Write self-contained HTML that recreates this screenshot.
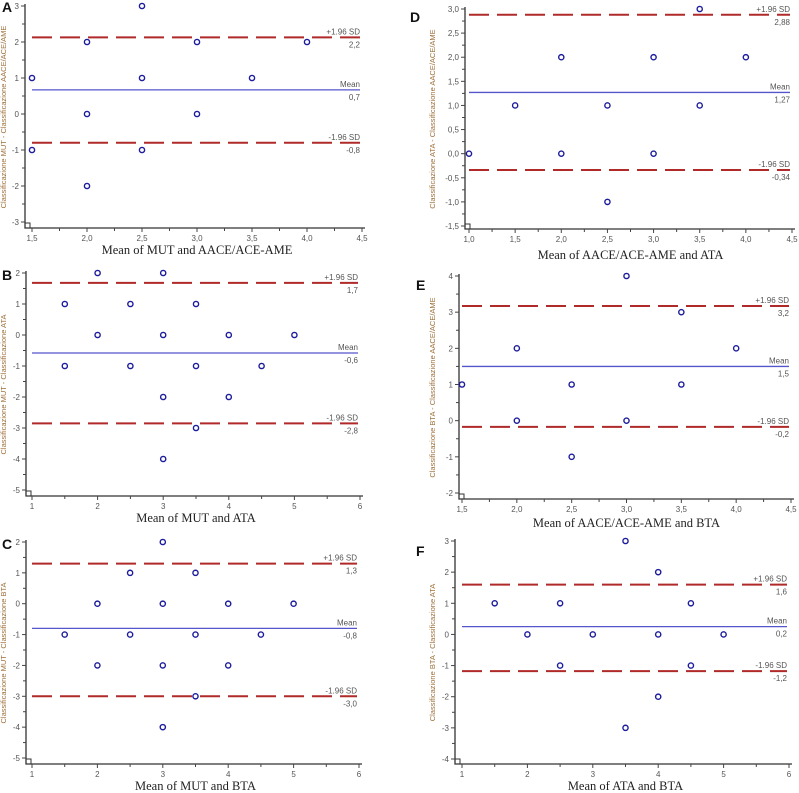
<!DOCTYPE html>
<html><head><meta charset="utf-8"><style>
body{margin:0;background:#fff;width:799px;height:793px;overflow:hidden}
svg{display:block}
</style></head><body>
<svg id="fig" width="799" height="793" xmlns="http://www.w3.org/2000/svg"></svg>
<script>
const NS="http://www.w3.org/2000/svg";
// Panel data
const aX=[1.5,1.5,2,2,2,2.5,2.5,2.5,3,3,3.5,4];
const aY=[1,-1,2,0,-2,3,1,-1,2,0,1,2];
const aLines=[2.13,0.67,-0.8];
const aLineLabels=["2,2","0,7","-0,8"];
const bX=[1.5,1.5,2,2,2.5,2.5,3,3,3,3,3.5,3.5,3.5,4,4,4.5,5];
const bY=[1,-1,2,0,1,-1,2,0,-2,-4,1,-1,-3,0,-2,-1,0];
const bLines=[1.68,-0.58,-2.85];
const bLineLabels=["1,7","-0,6","-2,8"];
const cX=[1.5,2,2,2.5,2.5,3,3,3,3,3.5,3.5,3.5,4,4,4.5,5];
const cY=[-1,0,-2,1,-1,2,0,-2,-4,1,-1,-3,0,-2,-1,0];
const cLines=[1.3,-0.8,-3.0];
const cLineLabels=["1,3","-0,8","-3,0"];
const dX=[1,1.5,2,2,2.5,2.5,3,3,3.5,3.5,4];
const dY=[0,1,2,0,1,-1,2,0,3,1,2];
const dLines=[2.88,1.27,-0.34];
const dLineLabels=["2,88","1,27","-0,34"];
const eX=[1.5,2,2,2.5,2.5,3,3,3.5,3.5,4];
const eY=[1,2,0,1,-1,4,0,3,1,2];
const eLines=[3.17,1.5,-0.17];
const eLineLabels=["3,2","1,5","-0,2"];
const fX=[1.5,2,2.5,2.5,3,3.5,3.5,4,4,4,4.5,4.5,5];
const fY=[1,0,1,-1,0,3,-3,2,0,-2,1,-1,0];
const fLines=[1.6,0.25,-1.18];
const fLineLabels=["1,6","0,2","-1,2"];
const aXTicks=["1,5","2,0","2,5","3,0","3,5","4,0","4,5"];
const intX=["1","2","3","4","5","6"];
const dXTicks=["1,0","1,5","2,0","2,5","3,0","3,5","4,0","4,5"];

const svg=document.getElementById('fig');
function el(tag,attrs,parent,text){const e=document.createElementNS(NS,tag);for(const k in attrs)e.setAttribute(k,attrs[k]);if(text!==undefined)e.textContent=text;(parent||svg).appendChild(e);return e;}

function panel(cfg){
  const g=el('g',{});
  
  
  const sx=v=>cfg.px0+(v-cfg.xmin)/(cfg.xmax-cfg.xmin)*(cfg.px1-cfg.px0);
  const sy=v=>cfg.py0+(cfg.ymax-v)/(cfg.ymax-cfg.ymin)*(cfg.py1-cfg.py0);
  const ax=cfg.ax, ay=cfg.ay;
  const axes=el('path',{d:`M${ax},${sy(cfg.ymax)-2}V${ay}H${cfg.px1+3}`,stroke:'#333',fill:'none','stroke-width':1.3},g);
   
  el('rect',{x:ax,y:ay-5,width:5,height:5,fill:'none',stroke:'#333','stroke-width':1},g);
  for(let i=0;i<cfg.yTicks.length;i++){
    const v=cfg.ymin+i*cfg.ystep, y=sy(v);
    el('line',{x1:ax-4,x2:ax,y1:y,y2:y,stroke:'#444','stroke-width':1},g);
    const t=el('text',{x:ax-6,y:y+3,'text-anchor':'end','font-size':8,fill:'#555','font-family':'Liberation Sans, sans-serif'},g,cfg.yTicks[i]);
     
    if(i<cfg.yTicks.length-1){const ym=sy(v+cfg.ystep/2);el('line',{x1:ax-3,x2:ax,y1:ym,y2:ym,stroke:'#444','stroke-width':1},g);}
  }
  for(let i=0;i<cfg.xTicks.length;i++){
    const v=cfg.xmin+i*cfg.xstep, x=sx(v);
    el('line',{x1:x,x2:x,y1:ay,y2:ay+4,stroke:'#444','stroke-width':1},g);
    const t=el('text',{x:x,y:ay+13,'text-anchor':'middle','font-size':8,fill:'#555','font-family':'Liberation Sans, sans-serif'},g,cfg.xTicks[i]);
     
    if(i<cfg.xTicks.length-1){const xm=sx(v+cfg.xstep/2);el('line',{x1:xm,x2:xm,y1:ay,y2:ay+3,stroke:'#444','stroke-width':1},g);}
  }
  const lx0=cfg.px0, lx1=cfg.px1-2;
  const names=['upper-loa-line','mean-line','lower-loa-line'];
  const tops=['+1.96 SD','Mean','-1.96 SD'];
  cfg.lines.forEach((v,i)=>{
    const y=sy(v);
    const l=el('line',{x1:lx0,x2:lx1,y1:y,y2:y,stroke:i==1?'#5555cc':'#b02a2a','stroke-width':i==1?1.3:2,'stroke-dasharray':i==1?'none':'20 8'},g);
     
    const t1=el('text',{x:lx1,y:y-3,'text-anchor':'end','font-size':8,fill:'#555','font-family':'Liberation Sans, sans-serif'},g,tops[i]);
     
    const t2=el('text',{x:lx1,y:y+10,'text-anchor':'end','font-size':8,fill:'#555','font-family':'Liberation Sans, sans-serif'},g,cfg.lineLabels[i]);
     
  });
  cfg.xs.forEach((v,i)=>{
    const c=el('circle',{cx:sx(v),cy:sy(cfg.ys[i]),r:2.6,fill:'#fff',stroke:'#1c1c9c','stroke-width':1.4},g);
     
  });
  const ym=(sy(cfg.ymax)+ay)/2;
  const yt=el('text',{x:cfg.ytx,y:ym,'text-anchor':'middle','font-size':7.5,fill:'#a0703a','font-family':'Liberation Sans, sans-serif',transform:`rotate(-90 ${cfg.ytx} ${ym})`},g,cfg.ytitle);
   
  const xt=el('text',{x:(cfg.px0+cfg.px1)/2,y:cfg.xty,'text-anchor':'middle','font-size':12.5,fill:'#222','font-family':'Liberation Serif, serif'},g,cfg.xtitle);
   
  const lt=el('text',{x:cfg.lx,y:cfg.ly,'font-size':14,'font-weight':'bold',fill:'#111','font-family':'Liberation Sans, sans-serif'},g,cfg.letter);
   
}
const ints=(a,b)=>{const r=[];for(let v=a;v<=b;v++)r.push(String(v));return r;};
panel({letter:'A',xs:aX,ys:aY,lines:aLines,lineLabels:aLineLabels,ax:25,ay:228,px0:32,px1:362,xmin:1.5,xmax:4.5,xstep:0.5,xTicks:aXTicks,py0:6,py1:222,ymin:-3,ymax:3,ystep:1,yTicks:ints(-3,3),ytx:6,ytitle:'Classificazione MUT - Classificazione AACE/ACE/AME',xtitle:'Mean of MUT and AACE/ACE-AME',xty:254,lx:2,ly:12});
panel({letter:'B',xs:bX,ys:bY,lines:bLines,lineLabels:bLineLabels,ax:26,ay:496,px0:32,px1:360,xmin:1,xmax:6,xstep:1,xTicks:intX,py0:273,py1:490,ymin:-5,ymax:2,ystep:1,yTicks:ints(-5,2),ytx:6,ytitle:'Classificazione MUT - Classificazione ATA',xtitle:'Mean of MUT and ATA',xty:522,lx:2,ly:280});
panel({letter:'C',xs:cX,ys:cY,lines:cLines,lineLabels:cLineLabels,ax:26,ay:764,px0:32,px1:359,xmin:1,xmax:6,xstep:1,xTicks:intX,py0:542,py1:758,ymin:-5,ymax:2,ystep:1,yTicks:ints(-5,2),ytx:6,ytitle:'Classificazione MUT - Classificazione BTA',xtitle:'Mean of MUT and BTA',xty:790,lx:2,ly:549});
const dY_T=["-1,5","-1,0","-0,5","0,0","0,5","1,0","1,5","2,0","2,5","3,0"];
panel({letter:'D',xs:dX,ys:dY,lines:dLines,lineLabels:dLineLabels,ax:465,ay:229,px0:469,px1:792,xmin:1,xmax:4.5,xstep:0.5,xTicks:dXTicks,py0:9,py1:226,ymin:-1.5,ymax:3,ystep:0.5,yTicks:dY_T,ytx:435,ytitle:'Classificazione ATA - Classificazione AACE/ACE/AME',xtitle:'Mean of AACE/ACE-AME and ATA',xty:259,lx:410,ly:22});
panel({letter:'E',xs:eX,ys:eY,lines:eLines,lineLabels:eLineLabels,ax:459,ay:499,px0:462,px1:791,xmin:1.5,xmax:4.5,xstep:0.5,xTicks:aXTicks,py0:276,py1:493,ymin:-2,ymax:4,ystep:1,yTicks:ints(-2,4),ytx:435,ytitle:'Classificazione BTA - Classificazione AACE/ACE/AME',xtitle:'Mean of AACE/ACE-AME and BTA',xty:527,lx:416,ly:290});
panel({letter:'F',xs:fX,ys:fY,lines:fLines,lineLabels:fLineLabels,ax:455,ay:764,px0:462,px1:789,xmin:1,xmax:6,xstep:1,xTicks:intX,py0:541,py1:759,ymin:-4,ymax:3,ystep:1,yTicks:ints(-4,3),ytx:435,ytitle:'Classificazione BTA - Classificazione ATA',xtitle:'Mean of ATA and BTA',xty:790,lx:416,ly:556});
</script>
</body></html>
